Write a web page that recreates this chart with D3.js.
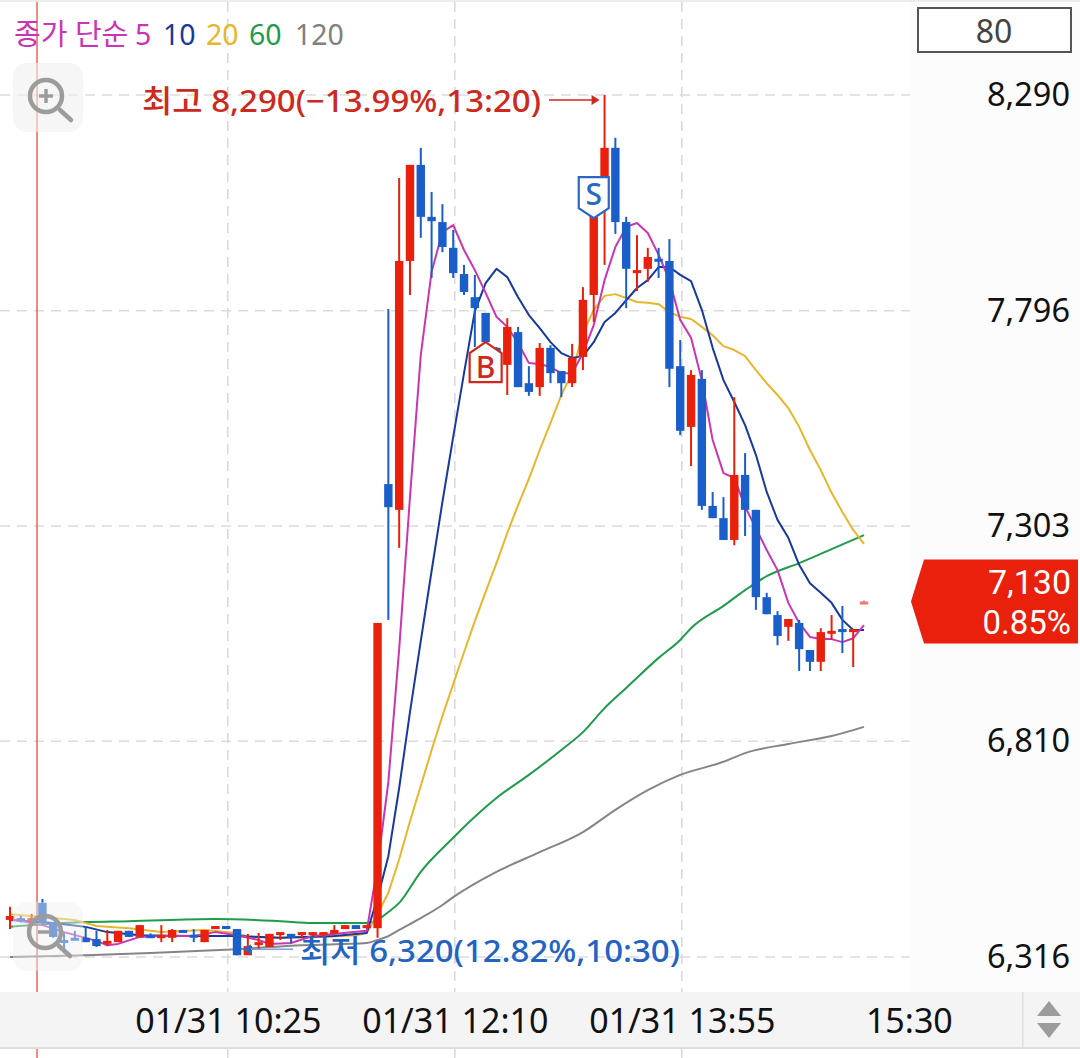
<!DOCTYPE html>
<html lang="ko">
<head>
<meta charset="utf-8">
<style>
  html, body { margin: 0; padding: 0; background: #fff; }
  svg { display: block; }
  text { font-family: "Noto Sans", "Noto Sans CJK KR", sans-serif; }
</style>
<script src="https://cdn.jsdelivr.net/npm/d3@7/dist/d3.min.js"></script>
</head>
<body>
<svg id="chart" width="1080" height="1058"></svg>
<script>
// Candle prices, one entry per 5-minute bar
const opens = [6401,6405,6400,6440,6396,6355,6360,6360,6357,6350,6350,6376,6362,6366,6362,6360,6378,6367,6350,6380,
  6387,6380,6320,6345,6339,6368,6369,6368,6368,6368,6369,6380,6389,6382,6382,7399,7340,7910,8130,8011,
  7999,7940,7880,7827,7791,7711,7672,7747,7630,7621,7711,7658,7630,7690,7832,8050,8169,7999,7882,7892,
  7915,7910,7669,7530,7640,7349,7321,7271,7420,7340,7140,7099,7072,7081,7019,6992,7060,7067,7060,7128];
const highs = [6431,6410,6415,6449,6396,6371,6376,6387,6376,6378,6376,6376,6389,6370,6389,6380,6378,6380,6378,6387,
  6387,6380,6369,6371,6369,6373,6369,6373,6373,6373,6389,6389,6389,6389,7081,7800,8100,8130,8169,8068,
  8040,7981,7901,7878,7791,7713,7779,7759,7669,7722,7717,7658,7720,7850,8040,8290,8192,8011,7969,7940,
  7940,7960,7729,7660,7660,7381,7369,7598,7470,7340,7150,7108,7090,7088,7019,7069,7099,7120,7067,7132];
const lows = [6380,6395,6395,6390,6360,6325,6356,6350,6339,6341,6350,6362,6362,6360,6350,6350,6371,6350,6350,6380,
  6380,6320,6325,6332,6339,6355,6348,6360,6362,6362,6369,6380,6380,6382,6360,7088,7253,7832,7963,7871,
  7930,7871,7832,7713,7670,7660,7603,7621,7601,7601,7630,7598,7621,7660,7770,7901,7972,7802,7841,7862,
  7871,7621,7511,7440,7340,7321,7271,7259,7280,7111,7101,7030,7040,6971,6971,6971,7042,7012,6980,7128];
const closes = [6410,6400,6405,6394,6362,6352,6356,6350,6341,6353,6376,6362,6389,6362,6366,6378,6371,6364,6378,6387,
  6380,6320,6341,6350,6369,6373,6360,6373,6373,6373,6378,6389,6380,6389,7081,7346,7910,8130,8011,8001,
  7942,7882,7839,7802,7724,7665,7759,7621,7610,7711,7653,7630,7688,7821,8040,8169,7999,7892,7889,7919,
  7912,7663,7521,7649,7349,7321,7271,7420,7340,7140,7101,7051,7090,7021,6992,7060,7063,7060,7067,7130];

// Moving averages as [bar index, price] pairs
const ma5 = [[0,6403],[3,6389],[5,6373],[8,6353],[9,6343],[10,6346],[12,6362],[14,6364],[17,6364],[19,6373],[21,6366],[23,6355],[24,6346],[26,6348],[28,6364],[33,6376],
  [34,6524],[35,6717],[36,7021],[37,7369],[38,7695],[39,7885],[40,7976],[41,7992],[42,7935],[43,7889],[44,7837],[45,7782],[46,7759],[47,7722],[48,7676],[49,7674],[50,7667],[51,7653],[52,7653],[53,7699],
  [54,7763],[55,7866],[56,7942],[57,7988],[58,7997],[59,7974],[60,7924],[61,7866],[62,7775],[63,7734],[64,7637],[65,7500],[66,7424],[67,7413],[68,7347],[69,7298],[70,7248],[71,7202],[72,7127],[73,7081],
  [74,7049],[75,7044],[76,7044],[77,7037],[78,7046],[79,7076]];
const ma10 = [[0,6401],[4,6394],[7,6385],[9,6373],[12,6366],[17,6364],[21,6364],[25,6360],[30,6364],[33,6371],
  [34,6451],[35,6547],[36,6703],[37,6877],[38,7040],[39,7200],[40,7358],[41,7507],[42,7653],[43,7795],[44,7859],[45,7892],[46,7873],[47,7827],[48,7786],[49,7756],[50,7724],[51,7699],[52,7688],[53,7692],
  [54,7724],[55,7770],[56,7791],[57,7820],[58,7848],[59,7866],[60,7896],[61,7896],[62,7878],[63,7864],[64,7798],[65,7711],[66,7637],[67,7587],[68,7534],[69,7466],[70,7381],[71,7317],[72,7276],[73,7214],
  [74,7172],[75,7150],[76,7127],[77,7088],[78,7065],[79,7065]];
const ma20 = [[0,6414],[2,6410],[6,6401],[8,6387],[11,6382],[14,6373],[18,6378],[21,6371],[22,6362],[25,6360],[29,6362],[32,6366],[33,6371],
  [34,6414],[35,6463],[36,6540],[37,6627],[38,6708],[39,6790],[40,6868],[41,6941],[42,7014],[43,7085],[44,7152],[45,7218],[46,7287],[47,7351],[48,7411],[49,7477],[50,7539],[51,7603],[52,7653],[53,7745],
  [54,7798],[55,7830],[56,7834],[57,7825],[58,7816],[59,7814],[60,7811],[61,7793],[62,7782],[63,7777],[64,7759],[65,7740],[66,7715],[67,7706],[68,7692],[69,7660],[70,7630],[71,7603],[72,7573],[73,7530],
  [74,7477],[75,7431],[76,7379],[77,7335],[78,7294],[79,7262]];
const ma60 = [[0,6385],[7,6396],[11,6398],[19,6403],[25,6398],[28,6394],[33,6394],[34,6401],[35,6419],[36,6440],[38,6511],[41,6589],[43,6637],[45,6680],[48,6733],[51,6790],[53,6831],[55,6886],[57,6932],
  [60,7001],[62,7042],[63,7069],[66,7120],[68,7156],[70,7188],[73,7218],[76,7250],[79,7282]];
const ma120 = [[0,6316],[7,6320],[13,6325],[21,6334],[27,6343],[33,6348],[34,6355],[35,6364],[36,6378],[38,6405],[40,6435],[41,6453],[45,6511],[49,6556],[53,6602],[56,6653],[59,6698],[62,6733],[66,6763],
  [68,6783],[72,6804],[76,6822],[79,6843]];

const priceTicks = [8290, 7796, 7303, 6810, 6316];
const timeTickBars = [20, 41, 62, 83];
const timeTickLabels = ["01/31 10:25", "01/31 12:10", "01/31 13:55", "15:30"];
const legendItems = [["종가 단순", 14, "#c935b5"], ["5", 135, "#c935b5"], ["10", 163, "#17399c"], ["20", 206, "#e8b62b"], ["60", 249, "#1f9b4b"], ["120", 295, "#808080"]];

const highBar = 55, lowBar = 21, buyBar = 44, sellBar = 54;
const buyPrice = 7724, sellPrice = 8102, currentPrice = 7130;

const RED = "#e8200c", BLUE = "#1a5fc9";
const svg = d3.select("#chart");
const x = d3.scaleLinear().domain([0, 79]).range([10, 864]);
const y = d3.scaleLinear().domain([6316, 8290]).range([957, 95]);
const tickX = d3.scaleLinear().domain([0, 79]).range([11.6, 865.6]);

// Right and bottom background bands
svg.append("rect").attr("x", 0).attr("y", 0).attr("width", 1080).attr("height", 2).attr("fill", "#ececec");
svg.append("rect").attr("x", 910).attr("y", 2).attr("width", 170).attr("height", 990).attr("fill", "#fcfcfc");
svg.append("rect").attr("x", 0).attr("y", 992).attr("width", 1080).attr("height", 55).attr("fill", "#f4f4f4");
svg.append("rect").attr("x", 0).attr("y", 1047).attr("width", 1080).attr("height", 2).attr("fill", "#dedede");
svg.append("rect").attr("x", 1022).attr("y", 992).attr("width", 1.5).attr("height", 55).attr("fill", "#dedede");

// Dashed grid
const grid = svg.append("g");
grid.selectAll("line.h").data(priceTicks).join("line").attr("class", "h")
  .attr("x1", 0).attr("x2", 910).attr("y1", d => y(d)).attr("y2", d => y(d))
  .attr("stroke", "#dcdcdc").attr("stroke-width", 1.5).attr("stroke-dasharray", "10 7");
grid.selectAll("line.v").data(timeTickBars.slice(0, 3)).join("line").attr("class", "v")
  .attr("x1", d => tickX(d)).attr("x2", d => tickX(d)).attr("y1", 2).attr("y2", 992)
  .attr("stroke", "#d8d8d8").attr("stroke-width", 1.5).attr("stroke-dasharray", "10 7");
grid.selectAll("line.w").data(timeTickBars.slice(0, 3)).join("line").attr("class", "w")
  .attr("x1", d => tickX(d)).attr("x2", d => tickX(d)).attr("y1", 1049).attr("y2", 1058)
  .attr("stroke", "#d8d8d8").attr("stroke-width", 1.5);

// Session-start marker
svg.append("line").attr("x1", x(2.5)).attr("x2", x(2.5)).attr("y1", 2).attr("y2", 992).attr("stroke", "#e04030").attr("stroke-width", 1.2);
svg.append("line").attr("x1", x(2.5)).attr("x2", x(2.5)).attr("y1", 1049).attr("y2", 1058).attr("stroke", "#e04030").attr("stroke-width", 1.2);

// Moving-average lines sit beneath the candles
const lineGen = d3.line().x(d => x(d[0])).y(d => y(d[1]));
const smoothGen = d3.line().x(d => x(d[0])).y(d => y(d[1])).curve(d3.curveMonotoneX);
[[ma120, "#858585", smoothGen], [ma60, "#1f9b4b", smoothGen], [ma20, "#e8b62b", lineGen], [ma10, "#17399c", lineGen], [ma5, "#c935b5", lineGen]].forEach(([series, color, gen]) => {
  svg.append("path").datum(series).attr("d", gen).attr("fill", "none")
    .attr("stroke", color).attr("stroke-width", 2).attr("stroke-linejoin", "round");
});

// Candles
const bars = d3.range(opens.length).map(i => ({ i, o: opens[i], h: highs[i], l: lows[i], c: closes[i] }));
const candles = svg.append("g").selectAll("g").data(bars).join("g")
  .attr("fill", d => d.c >= d.o ? RED : BLUE).attr("stroke", "none");
candles.append("rect")
  .attr("x", d => x(d.i) - 1).attr("width", 2)
  .attr("y", d => y(d.h)).attr("height", d => Math.max(1, y(d.l) - y(d.h)));
candles.append("rect")
  .attr("x", d => x(d.i) - 4.2).attr("width", 8.4)
  .attr("y", d => y(Math.max(d.o, d.c)))
  .attr("height", d => Math.max(3, Math.abs(y(d.o) - y(d.c))));

// Current-price dash on the last bar is lighter than the others
candles.filter(d => d.i === 79).attr("fill", "#ec7a6e");

// Buy marker
const bx = x(buyBar), by = y(buyPrice);
svg.append("path")
  .attr("d", d3.line()([[bx, by], [bx + 16, by + 11], [bx + 16, by + 40], [bx - 16, by + 40], [bx - 16, by + 11]]) + "Z")
  .attr("fill", "#fff").attr("stroke", "#d0281c").attr("stroke-width", 2.2);
svg.append("text").attr("x", bx).attr("y", by + 36).attr("text-anchor", "middle")
  .attr("font-size", 30).attr("font-weight", 500).attr("fill", "#d0281c").text("B");

// Sell marker
const sx = x(sellBar), sy = y(sellPrice);
svg.append("path")
  .attr("d", d3.line()([[sx - 15, sy], [sx + 15, sy], [sx + 15, sy + 31], [sx, sy + 41], [sx - 15, sy + 31]]) + "Z")
  .attr("fill", "#fff").attr("stroke", "#2a66c4").attr("stroke-width", 2.2);
svg.append("text").attr("x", sx).attr("y", sy + 28).attr("text-anchor", "middle")
  .attr("font-size", 30).attr("font-weight", 500).attr("fill", "#2a66c4").text("S");

// High annotation
const hy = y(8290) + 5;
svg.append("text").attr("x", 142).attr("y", 112).attr("font-size", 31).attr("font-weight", 500).attr("fill", "#cc2a1e")
  .attr("textLength", 399).attr("lengthAdjust", "spacingAndGlyphs").text("최고 8,290(−13.99%,13:20)");
svg.append("line").attr("x1", 549).attr("x2", x(highBar) - 8).attr("y1", hy).attr("y2", hy).attr("stroke", "#cc2a1e").attr("stroke-width", 1.6);
svg.append("path").attr("fill", "#cc2a1e")
  .attr("d", d3.line()([[x(highBar) - 5, hy], [x(highBar) - 13, hy - 5], [x(highBar) - 13, hy + 5]]) + "Z");

// Low annotation
const ly = y(6320) - 6;
svg.append("line").attr("x1", x(lowBar) + 10).attr("x2", 293).attr("y1", ly).attr("y2", ly).attr("stroke", "#7f9fd6").attr("stroke-width", 1.6);
svg.append("path").attr("fill", "#2a66c4")
  .attr("d", d3.line()([[x(lowBar) + 6, ly], [x(lowBar) + 14, ly - 5], [x(lowBar) + 14, ly + 5]]) + "Z");
svg.append("text").attr("x", 300).attr("y", 962).attr("font-size", 31).attr("font-weight", 500).attr("fill", "#2263c4")
  .attr("textLength", 380).attr("lengthAdjust", "spacingAndGlyphs").text("최저 6,320(12.82%,10:30)");

// Zoom buttons
function zoomButton(cx, cy, top, plus) {
  const g = svg.append("g");
  g.append("rect").attr("x", 13).attr("y", top).attr("width", 70).attr("height", 69).attr("rx", 14)
    .attr("fill", "#f0f0f0").attr("fill-opacity", plus ? 0.6 : 0.45);
  g.append("circle").attr("cx", cx).attr("cy", cy).attr("r", 16).attr("fill", "none").attr("stroke", "#9c9c9c").attr("stroke-width", 4.5);
  g.append("line").attr("x1", cx + 14).attr("y1", cy + 14).attr("x2", cx + 25).attr("y2", cy + 24)
    .attr("stroke", "#9c9c9c").attr("stroke-width", 4.5).attr("stroke-linecap", "round");
  g.append("line").attr("x1", cx - 7).attr("x2", cx + 7).attr("y1", cy).attr("y2", cy).attr("stroke", "#9c9c9c").attr("stroke-width", 3.5);
  if (plus) g.append("line").attr("x1", cx).attr("x2", cx).attr("y1", cy - 7).attr("y2", cy + 7).attr("stroke", "#9c9c9c").attr("stroke-width", 3.5);
}
zoomButton(46, 96, 63, true);
zoomButton(45, 932, 902, false);

// Legend
svg.append("g").selectAll("text").data(legendItems).join("text")
  .attr("x", d => d[1]).attr("y", 45).attr("font-size", d => d[1] === 14 ? 29 : 28.5).attr("fill", d => d[2]).text(d => d[0]);

// Bar-count box
svg.append("rect").attr("x", 918).attr("y", 8).attr("width", 153).attr("height", 44).attr("fill", "#fff").attr("stroke", "#555").attr("stroke-width", 2);
svg.append("text").attr("x", 994).attr("y", 43).attr("text-anchor", "middle").attr("font-size", 32).attr("fill", "#444").text("80");

// Price axis
const priceAxis = d3.axisRight(y).tickValues(priceTicks).tickSize(0).tickFormat(d3.format(","));
const pa = svg.append("g").attr("transform", "translate(1070,0)").call(priceAxis);
pa.select(".domain").remove();
pa.selectAll("text").attr("x", 0).attr("text-anchor", "end").attr("font-size", 32.5).attr("fill", "#111")
  .style("font-family", '"Noto Sans", sans-serif');

// Time axis
const timeAxis = d3.axisBottom(tickX).tickValues(timeTickBars).tickSize(0)
  .tickFormat((d, i) => timeTickLabels[i]);
const ta = svg.append("g").attr("transform", "translate(0,1005)").call(timeAxis);
ta.select(".domain").remove();
ta.selectAll("text").attr("y", 0).attr("dy", "0.82em").attr("font-size", 34).attr("fill", "#111")
  .style("font-family", '"Noto Sans", sans-serif');

// Current price tag
const ty = y(currentPrice);
svg.append("path").attr("fill", RED)
  .attr("d", d3.line()([[911, ty], [924, ty - 42], [1078, ty - 42], [1078, ty + 42], [924, ty + 42]]) + "Z");
svg.append("text").attr("x", 1071).attr("y", ty - 8).attr("text-anchor", "end").attr("font-size", 34).attr("fill", "#fff")
  .style("font-family", "Roboto").text(d3.format(",")(currentPrice));
svg.append("text").attr("x", 1071).attr("y", ty + 32).attr("text-anchor", "end").attr("font-size", 33).attr("fill", "#fff")
  .style("font-family", "Roboto").text("0.85%");

// Scroll arrows in the axis corner
svg.append("path").attr("fill", "#9c9c9c").attr("d", d3.line()([[1049, 1001], [1061, 1016], [1037, 1016]]) + "Z");
svg.append("path").attr("fill", "#9c9c9c").attr("d", d3.line()([[1037, 1023], [1061, 1023], [1049, 1038]]) + "Z");
</script>
</body>
</html>
